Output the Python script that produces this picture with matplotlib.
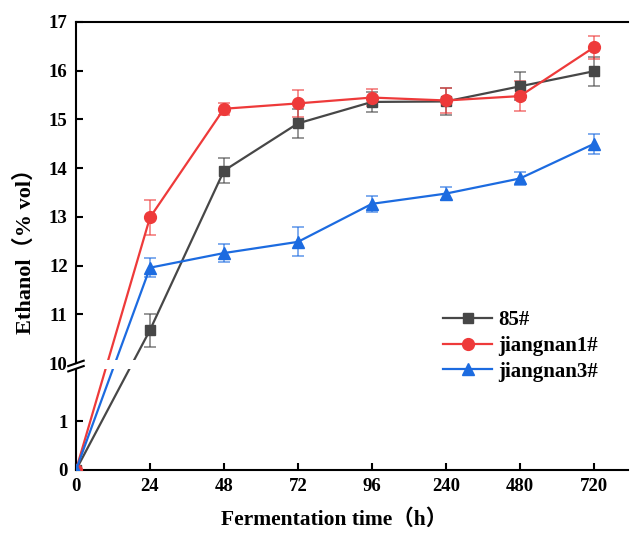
import numpy as np
import matplotlib
matplotlib.use('Agg')
from matplotlib import pyplot as plt
from matplotlib.patches import Rectangle, Polygon

plt.rcParams['font.family'] = ['Liberation Serif', 'Noto Sans CJK SC', 'DejaVu Sans']
plt.rcParams['font.weight'] = 'bold'

# ----- Data ----- #
time_lbl = ['0', '24', '48', '72', '96', '240', '480', '720']
s85 = [0.0, 10.68, 13.95, 14.92, 15.36, 15.37, 15.68, 15.99]
s85_err = [0.0, 0.34, 0.26, 0.30, 0.20, 0.27, 0.29, 0.30]
jn1 = [0.0, 12.99, 15.22, 15.33, 15.45, 15.39, 15.48, 16.48]
jn1_err = [0.0, 0.35, 0.12, 0.28, 0.18, 0.26, 0.31, 0.24]
jn3 = [0.0, 11.96, 12.26, 12.49, 13.27, 13.48, 13.79, 14.50]
jn3_err = [0.0, 0.20, 0.18, 0.30, 0.17, 0.14, 0.13, 0.20]
y_ticks = [0, 1, 10, 11, 12, 13, 14, 15, 16, 17]

# ----- broken y axis: 0-2 kept, 2-10 squeezed, 10-17 shifted ----- #
lo, hi, gap = 2.0, 10.0, 0.19
def fwd(y):
    y = np.asarray(y, dtype=float)
    return np.where(y <= lo, y, np.where(y >= hi, y - hi + lo + gap,
                                         lo + (y - lo) * gap / (hi - lo)))
def inv(t):
    t = np.asarray(t, dtype=float)
    return np.where(t <= lo, t, np.where(t >= lo + gap, t + hi - lo - gap,
                                         lo + (t - lo) * (hi - lo) / gap))

fs = 13.5
fig = plt.figure(figsize=(6.3, 5.35), dpi=100)
ax = fig.add_axes([0.1206, 0.1215, 0.8762, 0.8374])
ax.set_yscale('function', functions=(fwd, inv))

x = np.arange(len(time_lbl))
series = [(s85, s85_err, '#474747', 's', '85#', 7.5),
          (jn1, jn1_err, '#EE3A3A', 'o', 'jiangnan1#', 8.5),
          (jn3, jn3_err, '#1C6BE0', '^', 'jiangnan3#', 8.5)]
for val, err, col, mk, lab, ms in series:
    ax.errorbar(x, val, yerr=err, fmt='none', ecolor=col, alpha=0.65,
                elinewidth=1.2, capsize=4, capthick=1.2, zorder=2)
    ax.plot(x, val, color=col, marker=mk, markersize=ms, linewidth=1.6,
            label=lab, zorder=3)

ax.set_xlim(0, 7.46)
ax.set_ylim(0, 17)
ax.set_xticks(x)
ax.set_xticklabels(time_lbl, fontsize=fs, fontweight='bold')
ax.set_yticks(y_ticks)
ax.set_yticklabels([str(v) for v in y_ticks], fontsize=fs, fontweight='bold')
ax.yaxis.set_minor_locator(matplotlib.ticker.NullLocator())
ax.tick_params(direction='in', width=1.5, length=5, pad=6)
ax.spines['right'].set_visible(False)
for s in ['top', 'bottom', 'left']:
    ax.spines[s].set_linewidth(1.5)

# white gap across the lines at the break
ax.add_patch(Rectangle((0.003, 0.2254), 0.99, 0.02, transform=ax.transAxes,
                       facecolor='white', edgecolor='none', zorder=3.5))
# break marks on the left spine
yc = 0.232
ax.add_patch(Polygon([[-0.015, yc - 0.012], [0.015, yc + 0.002],
                      [0.015, yc + 0.012], [-0.015, yc - 0.002]],
                     closed=True, transform=ax.transAxes, facecolor='white',
                     edgecolor='none', clip_on=False, zorder=4))
for dy in [-0.006, 0.006]:
    ax.plot([-0.014, 0.014], [yc + dy - 0.006, yc + dy + 0.006], color='k',
            linewidth=1.5, transform=ax.transAxes, clip_on=False, zorder=5)

ax.set_xlabel('Fermentation time（h）', fontsize=15.5, fontweight='bold')
ax.xaxis.set_label_coords(0.467, -0.088)
ax.set_ylabel('Ethanol（% vol）', fontsize=16, fontweight='bold', labelpad=9)

leg = ax.legend(loc='upper left', bbox_to_anchor=(0.631, 0.398), frameon=False,
                handlelength=2.35, handletextpad=0.3, labelspacing=0.27,
                prop={'size': 15, 'weight': 'bold'})

plt.savefig('out.png', dpi=100)
plt.close()
